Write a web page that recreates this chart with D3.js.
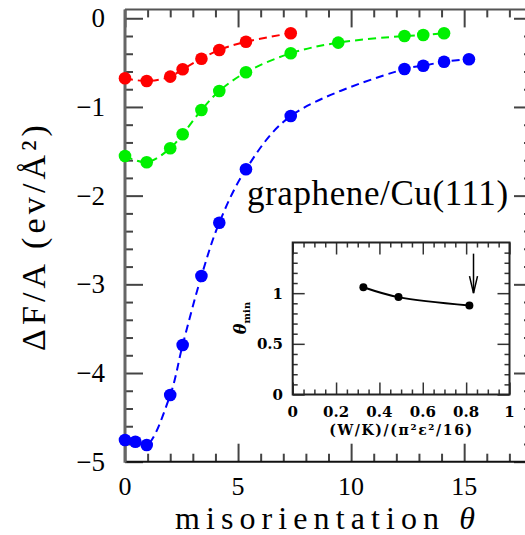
<!DOCTYPE html>
<html>
<head>
<meta charset="utf-8">
<script src="https://cdn.jsdelivr.net/npm/d3@7"></script>
<style>
  html, body { margin: 0; padding: 0; background: #fff; }
  svg { display: block; }
</style>
</head>
<body>
<svg id="chart" width="525" height="535"></svg>
<script>
// Free-energy change per area versus misorientation angle, three series
const redTheta   = [0, 0.96, 2.0, 2.55, 3.38, 4.17, 5.35, 7.33];
const redDF      = [-0.677, -0.707, -0.658, -0.575, -0.456, -0.358, -0.264, -0.169];

const greenTheta = [0, 0.96, 2.0, 2.55, 3.38, 4.17, 5.35, 7.33, 9.43, 12.36, 13.19, 14.11];
const greenDF    = [-1.553, -1.624, -1.466, -1.308, -1.034, -0.820, -0.609, -0.395, -0.275, -0.200, -0.188, -0.169];

const blueTheta  = [0, 0.46, 0.96, 2.0, 2.55, 3.38, 4.17, 5.35, 7.33, 12.36, 13.19, 14.11, 15.21];
const blueDF     = [-4.755, -4.775, -4.812, -4.248, -3.684, -2.906, -2.305, -1.703, -1.102, -0.572, -0.535, -0.490, -0.462];

// Inset: angle of the minimum versus the scaled coupling ratio
const insetRatio    = [0.326, 0.488, 0.815];
const insetThetaMin = [1.059, 0.961, 0.879];
const arrowRatio    = 0.834;
const arrowFrom     = 1.39;
const arrowTo       = 1.0;

const xMajorTicks = [0, 5, 10, 15];
const yMajorTicks = [0, -1, -2, -3, -4, -5];
const insetXTicks = [0, 0.2, 0.4, 0.6, 0.8, 1];
const insetYTicks = [0, 0.5, 1];

const annotation = "graphene/Cu(111)";

const svg = d3.select("#chart");
const serif = "'Liberation Serif', 'Times New Roman', serif";

// spread the letters of a text so that it spans the given width
function fitWidth(sel, width) {
  const node = sel.node();
  const n = node.textContent.length;
  const natural = node.getComputedTextLength();
  if (n > 1) sel.attr("letter-spacing", ((width - natural) / (n - 1)).toFixed(2));
  return sel;
}

// ---------- main panel ----------
const x = d3.scaleLinear().domain([0, 18]).range([125, 532]);
const y = d3.scaleLinear().domain([-5, 0.1]).range([461.7, 9.4]);

const main = svg.append("g");

function tickAxis(axisFn, scale, values, size, transform) {
  const g = main.append("g")
    .attr("transform", transform)
    .call(axisFn(scale).tickValues(values).tickSize(size).tickFormat(""));
  g.select(".domain").remove();
  g.selectAll(".tick line").attr("stroke", "#444").attr("stroke-width", 2);
  return g;
}
const xMinor = d3.range(0, 18.01, 1).filter(v => v % 5 !== 0);
const yMinor = d3.range(-5, 0.01, 0.2).map(v => +v.toFixed(1)).filter(v => Math.abs(v - Math.round(v)) > 1e-6);

tickAxis(d3.axisBottom, x, xMajorTicks, -18, `translate(0,${y(-5)})`);
tickAxis(d3.axisBottom, x, xMinor, -8, `translate(0,${y(-5)})`);
tickAxis(d3.axisTop, x, xMajorTicks, -18, `translate(0,${y.range()[1]})`);
tickAxis(d3.axisTop, x, xMinor, -8, `translate(0,${y.range()[1]})`);
tickAxis(d3.axisLeft, y, yMajorTicks, -18, `translate(${x(0)},0)`);
tickAxis(d3.axisLeft, y, yMinor, -8, `translate(${x(0)},0)`);
tickAxis(d3.axisRight, y, yMajorTicks, -18, `translate(${x(18)},0)`);
tickAxis(d3.axisRight, y, yMinor, -8, `translate(${x(18)},0)`);

// frame
main.append("line").attr("x1", x(0)).attr("x2", x(18)).attr("y1", y(-5)).attr("y2", y(-5))
  .attr("stroke", "#111").attr("stroke-width", 2);
main.append("line").attr("x1", x(0)).attr("x2", x(18)).attr("y1", y.range()[1]).attr("y2", y.range()[1])
  .attr("stroke", "#555").attr("stroke-width", 2);
main.append("line").attr("x1", x(0)).attr("x2", x(0)).attr("y1", y.range()[1]).attr("y2", y(-5) + 1)
  .attr("stroke", "#666").attr("stroke-width", 3);

// tick labels
main.append("g").selectAll("text").data(xMajorTicks).join("text")
  .attr("x", d => x(d)).attr("y", 494.5)
  .attr("text-anchor", "middle")
  .attr("font-family", serif).attr("font-size", 26)
  .text(d => d);
main.append("g").selectAll("text").data(yMajorTicks).join("text")
  .attr("x", 105).attr("y", d => y(d) + 9)
  .attr("text-anchor", "end")
  .attr("font-family", serif).attr("font-size", 27)
  .text(d => d === 0 ? "0" : "\u2212" + Math.abs(d));

// axis titles
const xTitle = main.append("text")
  .attr("x", 328).attr("y", 529)
  .attr("text-anchor", "middle")
  .attr("font-family", serif).attr("font-size", 32);
xTitle.append("tspan").text("misorientation ");
xTitle.append("tspan").attr("font-style", "italic").text("\u03b8");
fitWidth(xTitle, 300);

const yTitle = main.append("text")
  .attr("transform", "translate(45,236) rotate(-90)")
  .attr("text-anchor", "middle")
  .attr("font-family", serif).attr("font-size", 34)
  .text("\u0394F/A (ev/\u00c5\u00b2)");
fitWidth(yTitle, 226);

// series
const series = [
  { theta: redTheta,   df: redDF,   color: "#ff0000" },
  { theta: greenTheta, df: greenDF, color: "#00f000" },
  { theta: blueTheta,  df: blueDF,  color: "#0000ff" }
];
const line = d3.line().x(d => x(d[0])).y(d => y(d[1])).curve(d3.curveCatmullRom.alpha(0.5));

series.forEach(s => {
  const pts = s.theta.map((t, i) => [t, s.df[i]]);
  main.append("path").datum(pts)
    .attr("d", line)
    .attr("fill", "none").attr("stroke", s.color)
    .attr("stroke-width", 2).attr("stroke-dasharray", "8,5");
  main.append("g").selectAll("circle").data(pts).join("circle")
    .attr("cx", d => x(d[0])).attr("cy", d => y(d[1])).attr("r", 6.3)
    .attr("fill", s.color);
});

const note = main.append("text")
  .attr("x", 247).attr("y", 205)
  .attr("font-family", serif).attr("font-size", 35)
  .text(annotation);
fitWidth(note, 261);

// ---------- inset ----------
const ix = d3.scaleLinear().domain([0, 1]).range([292.7, 509.5]);
const iy = d3.scaleLinear().domain([0, 1.5]).range([394.5, 242.5]);
const inset = svg.append("g");
const insetFont = "'DejaVu Serif', serif";

inset.append("rect")
  .attr("x", ix(0)).attr("y", iy(1.5))
  .attr("width", ix(1) - ix(0)).attr("height", iy(0) - iy(1.5))
  .attr("fill", "#fff");

function insetTicks(axisFn, scale, values, size, transform) {
  const g = inset.append("g")
    .attr("transform", transform)
    .call(axisFn(scale).tickValues(values).tickSize(size).tickFormat(""));
  g.select(".domain").remove();
  g.selectAll(".tick line").attr("stroke", "#333").attr("stroke-width", 1.5);
}
const ixMinor = d3.range(0, 1.001, 0.05).map(v => +v.toFixed(2)).filter(v => Math.abs(v * 5 - Math.round(v * 5)) > 1e-6);
const iyMinor = d3.range(0, 1.501, 0.1).map(v => +v.toFixed(1)).filter(v => Math.abs(v * 2 - Math.round(v * 2)) > 1e-6);

insetTicks(d3.axisBottom, ix, insetXTicks, -12, `translate(0,${iy(0)})`);
insetTicks(d3.axisBottom, ix, ixMinor, -5, `translate(0,${iy(0)})`);
insetTicks(d3.axisTop, ix, insetXTicks, -12, `translate(0,${iy(1.5)})`);
insetTicks(d3.axisTop, ix, ixMinor, -5, `translate(0,${iy(1.5)})`);
insetTicks(d3.axisLeft, iy, insetYTicks, -12, `translate(${ix(0)},0)`);
insetTicks(d3.axisLeft, iy, iyMinor, -5, `translate(${ix(0)},0)`);
insetTicks(d3.axisRight, iy, insetYTicks, -12, `translate(${ix(1)},0)`);
insetTicks(d3.axisRight, iy, iyMinor, -5, `translate(${ix(1)},0)`);

inset.append("rect")
  .attr("x", ix(0)).attr("y", iy(1.5))
  .attr("width", ix(1) - ix(0)).attr("height", iy(0) - iy(1.5))
  .attr("fill", "none").attr("stroke", "#222").attr("stroke-width", 2);

inset.append("g").selectAll("text").data(insetXTicks).join("text")
  .attr("x", d => ix(d)).attr("y", 417)
  .attr("text-anchor", "middle")
  .attr("font-family", insetFont).attr("font-weight", "bold").attr("font-size", 15)
  .text(d => d);
inset.append("g").selectAll("text").data(insetYTicks).join("text")
  .attr("x", 283).attr("y", d => iy(d) + 5.5)
  .attr("text-anchor", "end")
  .attr("font-family", insetFont).attr("font-weight", "bold").attr("font-size", 15)
  .text(d => d);

const ixTitle = inset.append("text")
  .attr("x", 401.5).attr("y", 435)
  .attr("text-anchor", "middle")
  .attr("font-family", insetFont).attr("font-weight", "bold").attr("font-size", 14)
  .text("(W/K)/(\u03c0\u00b2\u03b5\u00b2/16)");
fitWidth(ixTitle, 143);

const iyTitle = inset.append("text")
  .attr("transform", "translate(246,318) rotate(-90)")
  .attr("text-anchor", "middle")
  .attr("font-family", insetFont).attr("font-weight", "bold");
iyTitle.append("tspan").attr("font-size", 16).attr("font-style", "italic").text("\u03b8");
iyTitle.append("tspan").attr("font-size", 10).attr("dy", 4).text("min");

const ipts = insetRatio.map((r, i) => [r, insetThetaMin[i]]);
inset.append("path").datum(ipts)
  .attr("d", d3.line().x(d => ix(d[0])).y(d => iy(d[1])).curve(d3.curveCatmullRom.alpha(0.5)))
  .attr("fill", "none").attr("stroke", "#000").attr("stroke-width", 2);
inset.append("g").selectAll("circle").data(ipts).join("circle")
  .attr("cx", d => ix(d[0])).attr("cy", d => iy(d[1])).attr("r", 4)
  .attr("fill", "#000");

// arrow marking the graphene/Cu(111) ratio
const ax = ix(arrowRatio);
inset.append("line")
  .attr("x1", ax).attr("x2", ax).attr("y1", iy(arrowFrom)).attr("y2", iy(arrowTo))
  .attr("stroke", "#000").attr("stroke-width", 1.5);
inset.append("path")
  .attr("d", `M${ax - 4},${iy(arrowTo) - 17} L${ax},${iy(arrowTo)} L${ax + 4},${iy(arrowTo) - 17}`)
  .attr("fill", "none").attr("stroke", "#000").attr("stroke-width", 1.5);
</script>
</body>
</html>
